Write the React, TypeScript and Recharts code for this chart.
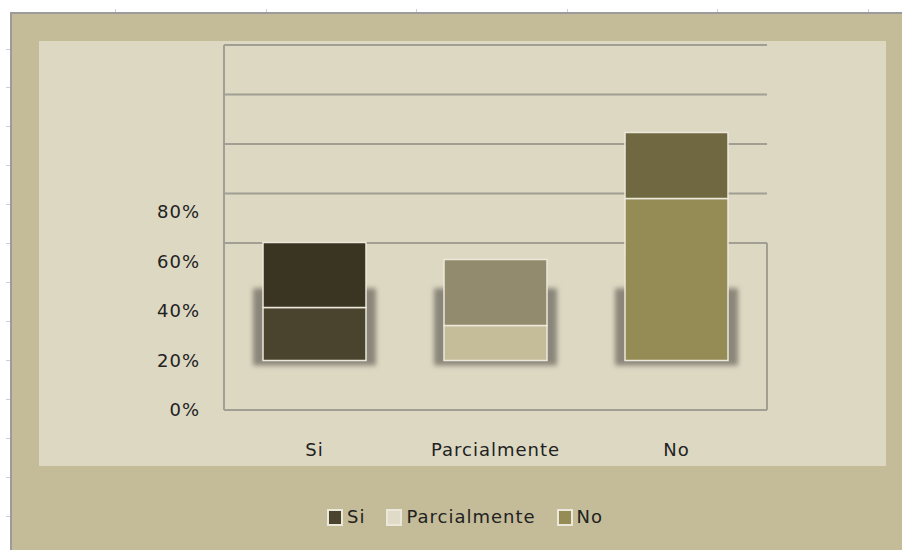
import React from 'react';
import { BarChart, Bar, XAxis, YAxis, CartesianGrid, ReferenceArea, Cell } from 'recharts';

const categories = ['Si', 'Parcialmente', 'No'];
const floorOffset = [20, 20, 20];
const lowerValues = [21.4, 14.1, 65.5];
const upperValues = [26.3, 26.7, 26.6];
const yTicks = [0, 20, 40, 60, 80];
const wallGridValues = [0, 67.5, 87.5, 107.5, 127.5, 147.5];
const yMax = 147.5;
const wallBoxTop = 67.5;

const lowerColors = ['#4a432e', '#c5bd99', '#958b55'];
const upperColors = ['#3a3423', '#928b6e', '#706841'];
const legendColors = ['#4a432e', '#e0dbc6', '#958b55'];

const data = categories.map((name, i) => ({
  name,
  base: floorOffset[i],
  lower: lowerValues[i],
  upper: upperValues[i],
}));

const FONT = '"DejaVu Sans", Verdana, sans-serif';
const tickStyle = { fill: '#222', fontSize: 18, fontFamily: FONT, letterSpacing: 1 };

const FloorShadow = (props: any) => {
  const { x, y, width, height, index } = props;
  const id = `blurShadow${index}`;
  return (
    <g>
      <defs>
        <filter id={id} x="-20%" y="-20%" width="140%" height="140%">
          <feGaussianBlur stdDeviation="2.5" />
        </filter>
      </defs>
      <rect
        x={x - 10}
        y={y - height * 1.46}
        width={width + 20}
        height={height * 1.56}
        fill="#8a8679"
        filter={`url(#${id})`}
      />
    </g>
  );
};

const WallEdge = (props: any) => {
  const { x, y, width, height } = props;
  return (
    <path
      d={`M${x + width},${y} L${x + width},${y + height}`}
      stroke="#a19e93"
      strokeWidth={2}
      fill="none"
    />
  );
};

const topTicks = [115, 266, 416, 567, 717, 868];
const leftTicks = [49, 87, 126, 165, 204, 243, 282, 321, 360, 399, 438, 477, 516];

export default function App() {
  return (
    <div
      style={{
        position: 'fixed',
        left: 0,
        top: 0,
        width: 902,
        height: 550,
        background: '#ffffff',
        overflow: 'hidden',
      }}
    >
      {topTicks.map((x) => (
        <div key={'t' + x} style={{ position: 'absolute', left: x, top: 9, width: 1, height: 3, background: '#c9d0dc' }} />
      ))}
      {leftTicks.map((y) => (
        <div key={'l' + y} style={{ position: 'absolute', left: 6, top: y, width: 4, height: 1, background: '#c9d0dc' }} />
      ))}
      <div
        style={{
          position: 'absolute',
          left: 10,
          top: 12,
          width: 892,
          height: 538,
          boxSizing: 'border-box',
          background: '#c4bc98',
          borderLeft: '2px solid #9b9b9b',
          borderTop: '2px solid #9b9b9b',
        }}
      />
      <div
        style={{
          position: 'absolute',
          left: 39,
          top: 41,
          width: 847,
          height: 425,
          background: '#ddd8c2',
        }}
      />
      <div style={{ position: 'absolute', left: 0, top: 0 }}>
        <BarChart
          width={902}
          height={550}
          data={data}
          margin={{ top: 45, right: 135, bottom: 80, left: 0 }}
          barSize={103}
        >
          <CartesianGrid
            vertical={false}
            horizontalValues={wallGridValues}
            stroke="#a19e93"
            strokeWidth={2}
          />
          <XAxis
            dataKey="name"
            height={60}
            axisLine={false}
            tickLine={false}
            tickSize={0}
            tickMargin={33}
            interval={0}
            tick={tickStyle}
          />
          <YAxis
            width={224}
            domain={[0, yMax]}
            ticks={yTicks}
            allowDataOverflow
            tickFormatter={(v: number) => `${v}%`}
            tickLine={false}
            tickSize={0}
            tickMargin={24}
            axisLine={{ stroke: '#a19e93', strokeWidth: 2 }}
            tick={tickStyle}
          />
          <ReferenceArea y1={0} y2={wallBoxTop} shape={<WallEdge />} ifOverflow="visible" />
          <Bar dataKey="base" stackId="a" shape={<FloorShadow />} isAnimationActive={false} />
          <Bar dataKey="lower" stackId="a" stroke="#ece8dc" strokeWidth={1.5} isAnimationActive={false}>
            {data.map((d, i) => (
              <Cell key={d.name} fill={lowerColors[i]} />
            ))}
          </Bar>
          <Bar dataKey="upper" stackId="a" stroke="#ece8dc" strokeWidth={1.5} isAnimationActive={false}>
            {data.map((d, i) => (
              <Cell key={d.name} fill={upperColors[i]} />
            ))}
          </Bar>
        </BarChart>
      </div>
      <div
        style={{
          position: 'absolute',
          left: 327,
          top: 505,
          display: 'flex',
          alignItems: 'center',
          fontFamily: FONT,
          fontSize: 18,
          letterSpacing: 1,
          color: '#222',
          lineHeight: '24px',
        }}
      >
        {categories.map((c, i) => (
          <div key={c} style={{ display: 'flex', alignItems: 'center', marginRight: i < categories.length - 1 ? 21 : 0 }}>
            <span
              style={{
                display: 'inline-block',
                width: 12,
                height: 13,
                background: legendColors[i],
                border: '2px solid #ebe7da',
                marginRight: 4,
              }}
            />
            <span>{c}</span>
          </div>
        ))}
      </div>
    </div>
  );
}
